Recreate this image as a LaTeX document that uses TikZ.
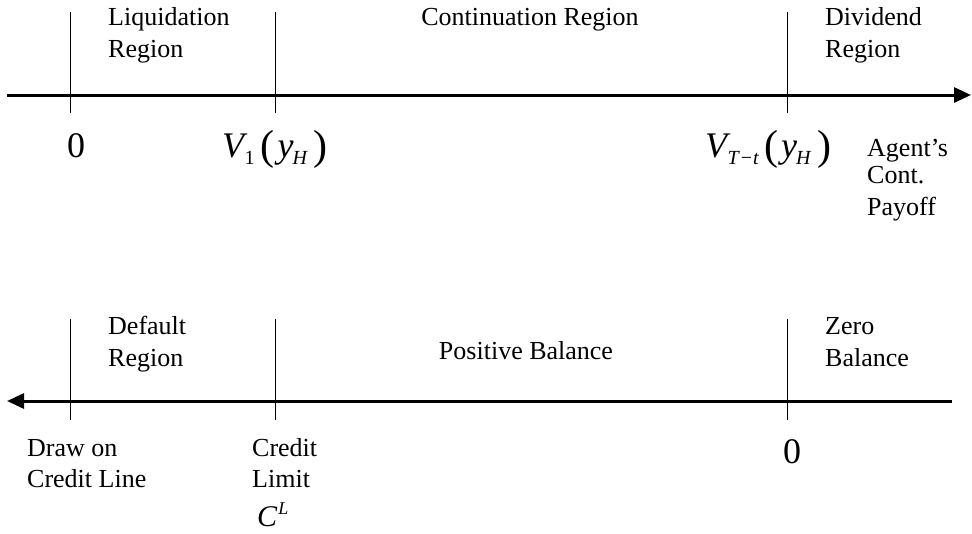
\documentclass[tikz,border=0pt]{standalone}
\usepackage{fontspec}
\setmainfont{Liberation Serif}
\usetikzlibrary{arrows.meta}
\newcommand{\bigsz}{\fontsize{36}{38}\selectfont}
\newcommand{\subsz}{\fontsize{20}{20}\selectfont}
\newcommand{\parsz}{\fontsize{42}{42}\selectfont}
\tikzset{
  axisline/.style={line width=3pt},
  tickline/.style={line width=1pt},
  lbl/.style={inner sep=0pt, anchor=base west, font=\fontsize{26}{28}\selectfont},
  lblc/.style={inner sep=0pt, anchor=base, font=\fontsize{26}{28}\selectfont},
  mlbl/.style={inner sep=0pt, anchor=base west, font=\bigsz},
}
\begin{document}
\begin{tikzpicture}[x=1pt,y=-1pt]
\useasboundingbox (0,0) rectangle (972,533);
% ---------- top axis ----------
\coordinate (tl) at (7,95);
\coordinate (tr) at (971,95);
\draw[axisline,-{Triangle[length=17pt,width=15pt]}] (tl) -- (tr);
\coordinate (t1a) at (70,12);  \coordinate (t1b) at (70,113);
\coordinate (t2a) at (275,12); \coordinate (t2b) at (275,113);
\coordinate (t3a) at (787,12); \coordinate (t3b) at (787,113);
\draw[tickline] (t1a) -- (t1b);
\draw[tickline] (t2a) -- (t2b);
\draw[tickline] (t3a) -- (t3b);
\node[lbl] (liq1) at (108,25) {Liquidation};
\node[lbl] (liq2) at (108,57) {Region};
\node[lblc] (cont) at (530,25) {Continuation Region};
\node[lbl] (div1) at (825,25) {Dividend};
\node[lbl] (div2) at (825,57) {Region};
\node[inner sep=0pt, anchor=base, font=\bigsz] (z1) at (76,157) {0};
\node[mlbl] (v1) at (222,157) {\textit{V}\kern-3pt\raisebox{-7pt}{\subsz 1}\kern6pt\raisebox{-2pt}{\parsz(}\kern3pt\textit{y}\kern-1pt\raisebox{-7pt}{\subsz\textit{H}}\kern6pt\raisebox{-2pt}{\parsz)}};
\node[mlbl] (vt) at (705,157) {\textit{V}\kern-3pt\raisebox{-7pt}{\subsz\textit{T}\kern1pt−\kern1pt\textit{t}}\kern5pt\raisebox{-2pt}{\parsz(}\kern3pt\textit{y}\kern-1pt\raisebox{-7pt}{\subsz\textit{H}}\kern6pt\raisebox{-2pt}{\parsz)}};
\node[lbl] (ag1) at (867,156) {Agent’s};
\node[lbl] (ag2) at (867,183) {Cont.};
\node[lbl] (ag3) at (867,215) {Payoff};
% ---------- bottom axis ----------
\coordinate (bl) at (7,401);
\coordinate (br) at (952,401);
\draw[axisline,{Triangle[length=17pt,width=15pt]}-] (bl) -- (br);
\coordinate (b1a) at (70,319);  \coordinate (b1b) at (70,420);
\coordinate (b2a) at (275,319); \coordinate (b2b) at (275,420);
\coordinate (b3a) at (787,319); \coordinate (b3b) at (787,420);
\draw[tickline] (b1a) -- (b1b);
\draw[tickline] (b2a) -- (b2b);
\draw[tickline] (b3a) -- (b3b);
\node[lbl] (def1) at (108,334) {Default};
\node[lbl] (def2) at (108,366) {Region};
\node[lblc] (pos) at (526,359) {Positive Balance};
\node[lbl] (zer1) at (825,334) {Zero};
\node[lbl] (zer2) at (825,366) {Balance};
\node[lbl] (dr1) at (27,456) {Draw on};
\node[lbl] (dr2) at (27,487) {Credit Line};
\node[lbl] (cr1) at (252,456) {Credit};
\node[lbl] (cr2) at (252,487) {Limit};
\node[inner sep=0pt, anchor=base west, font=\fontsize{30}{30}\selectfont] (cl) at (257,526) {\textit{C}\kern1pt\raisebox{12pt}{\fontsize{18}{18}\selectfont\textit{L}}};
\node[inner sep=0pt, anchor=base, font=\bigsz] (z2) at (792,463) {0};
\end{tikzpicture}
\end{document}
